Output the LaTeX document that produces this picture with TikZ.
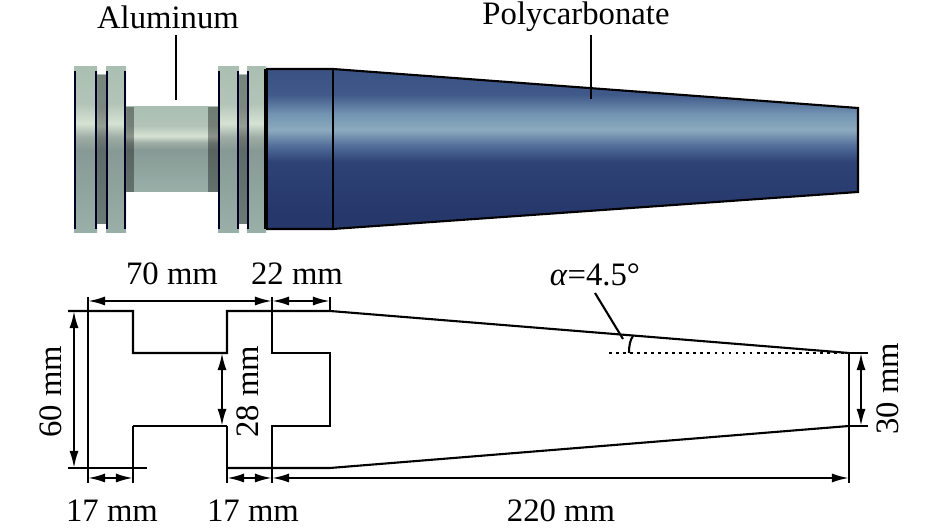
\documentclass[tikz,border=0pt]{standalone}
\usepackage{fontspec}
\setmainfont{Liberation Serif}
\usetikzlibrary{arrows.meta}
\pgfdeclareverticalshading{alushade}{100bp}{rgb(0bp)=(.29,.32,.40);rgb(3bp)=(.33,.37,.43);rgb(6bp)=(.62,.70,.68);
  rgb(25bp)=(.60,.69,.66);rgb(50bp)=(.53,.60,.58);rgb(54bp)=(.62,.68,.65);rgb(58bp)=(.84,.89,.83);rgb(64bp)=(.70,.77,.72);
  rgb(90bp)=(.62,.72,.66);rgb(96bp)=(.50,.57,.58);rgb(97bp)=(.29,.32,.40);rgb(100bp)=(.29,.32,.40)}
\pgfdeclareverticalshading{blueshade}{100bp}{rgb(0bp)=(.14,.16,.31);rgb(5bp)=(.15,.19,.36);rgb(30bp)=(.15,.22,.42);
  rgb(46bp)=(.18,.26,.46);rgb(51bp)=(.32,.43,.60);rgb(56bp)=(.55,.67,.75);rgb(61bp)=(.45,.58,.70);
  rgb(67bp)=(.25,.35,.54);rgb(78bp)=(.22,.31,.50);rgb(90bp)=(.24,.32,.51);rgb(100bp)=(.22,.28,.45)}
\begin{document}
\begin{tikzpicture}[x=0.01cm,y=-0.01cm,
    every node/.style={font=\fontsize{9.3}{11}\selectfont,inner sep=0pt},
    dimline/.style={line width=0.6pt,black},
    dimarrow/.style={line width=0.6pt,black,{Latex[length=1.7mm,width=.9mm]}-{Latex[length=1.7mm,width=.9mm]}},
    partedge/.style={line width=0.7pt,black!85!blue}]
    \useasboundingbox (0,0) rectangle (945,531);
    % aluminum end
    \foreach \xa/\xb in {97/106,239/247} {
      \shade[shading=alushade] (\xa,75) rectangle (\xb,224);
      \fill[black,opacity=.3] (\xa,75) rectangle (\xb,224);
    }
    \shade[shading=alushade] (126,107) rectangle (218,192);
    \fill[black,opacity=.35] (126,107) rectangle (134,192);
    \fill[black,opacity=.35] (208,107) rectangle (218,192);
    \foreach \xa/\xb in {74/97,106/126,218/239,247/266} {
      \shade[shading=alushade] (\xa,67) rectangle (\xb,233);
      \draw[partedge] (\xa+1,71) -- (\xa+1,229);
      \draw[partedge] (\xb-1,71) -- (\xb-1,229);
    }
    % polycarbonate cone
    \shade[shading=blueshade] (266,69) -- (333,69) -- (858,108) -- (858,192) -- (333,229) -- (266,229) -- cycle;
    \draw[line width=0.6pt,black] (266,69) -- (333,69) -- (858,108) -- (858,192) -- (333,229) -- (266,229);
    \draw[line width=1pt,black] (266,69) -- (266,229);
    \draw[line width=0.6pt,black] (333,69) -- (333,229);
    % leaders and top labels
    \node (alu) at (168,17) {Aluminum};
    \node (poly) at (576,17) {Polycarbonate};
    \coordinate (aluend) at (176,100);
    \coordinate (polyend) at (591,99);
    \coordinate (alustart) at (176,35);
    \coordinate (polystart) at (591,35);
    \draw[dimline] (alustart) -- (aluend);
    \draw[dimline] (polystart) -- (polyend);
    % section points
    \coordinate (a1) at (88,311);
    \coordinate (a2) at (133,311);
    \coordinate (a3) at (133,353);
    \coordinate (a4) at (227,353);
    \coordinate (a5) at (227,311);
    \coordinate (a6) at (330,311);
    \coordinate (a7) at (849,353);
    \coordinate (a8) at (849,426);
    \coordinate (a9) at (330,468);
    \coordinate (a10) at (227,468);
    \coordinate (b1) at (88,468);
    \coordinate (b2) at (133,426);
    \coordinate (b3) at (227,426);
    \coordinate (c1) at (272,353);
    \coordinate (c2) at (330,353);
    \coordinate (c3) at (330,426);
    \coordinate (c4) at (272,426);
    \coordinate (c5) at (272,311);
    \coordinate (d1) at (68,311);
    \coordinate (d2) at (68,468);
    \coordinate (d3) at (147,468);
    \coordinate (e1) at (88,297);
    \coordinate (e2) at (272,297);
    \coordinate (e3) at (330,297);
    \coordinate (f1) at (88,483);
    \coordinate (f2) at (133,483);
    \coordinate (f3) at (227,483);
    \coordinate (f4) at (272,483);
    \coordinate (f5) at (849,483);
    \coordinate (g1) at (868,353);
    \coordinate (g2) at (868,426);
    \draw[dimline] (d1) -- (a2) -- (a3) -- (a4) -- (a5) -- (a6) -- (a7);
    \draw[dimline] (b3) -- (f3);
    \draw[dimline] (b2) -- (f2);
    \draw[dimline] (b2) -- (b3);
    \draw[dimline] (d2) -- (d3);
    \draw[dimline] (a10) -- (a9) -- (a8);
    \draw[dimline] (e1) -- (f1);
    \draw[dimline] (e2) -- (c1) -- (c2) -- (c3) -- (c4) -- (f4);
    \draw[dimline] (e3) -- (a6);
    \draw[dimline] (a7) -- (f5);
    \draw[dimline] (a7) -- (g1);
    \draw[dimline] (a8) -- (g2);
    % dimension arrows
    \coordinate (h1) at (88,301);
    \coordinate (h2) at (272,301);
    \coordinate (h3) at (330,301);
    \coordinate (i1) at (88,478);
    \coordinate (i2) at (133,478);
    \coordinate (i3) at (227,478);
    \coordinate (i4) at (272,478);
    \coordinate (i5) at (849,478);
    \coordinate (j1) at (74,311);
    \coordinate (j2) at (74,468);
    \coordinate (k1) at (222,353);
    \coordinate (k2) at (222,426);
    \coordinate (l1) at (861,353);
    \coordinate (l2) at (861,426);
    \draw[dimarrow] (h1) -- (h2);
    \draw[dimarrow] (h2) -- (h3);
    \draw[dimarrow] (i1) -- (i2);
    \draw[dimarrow] (i3) -- (i4);
    \draw[dimarrow] (i4) -- (i5);
    \draw[dimarrow] (j1) -- (j2);
    \draw[dimarrow] (k1) -- (k2);
    \draw[dimarrow] (l1) -- (l2);
    % angle
    \coordinate (m1) at (609,353);
    \coordinate (m2) at (595,293);
    \coordinate (m3) at (623,339);
    \coordinate (m4) at (629,353);
    \coordinate (m5) at (633,336);
    \draw[line width=0.6pt,dash pattern=on .8pt off 1.2pt] (m1) -- (a7);
    \draw[dimline] (m2) -- (m3);
    \draw[dimline] (m4) .. controls (629,346) and (630,340) .. (m5);
    % labels
    \node (t70) at (172,274) {70 mm};
    \node (t22) at (297,274) {22 mm};
    \node (talpha) at (595,275) {\textit{α}=4.5°};
    \node (t17a) at (112,511) {17 mm};
    \node (t17b) at (253,511) {17 mm};
    \node (t220) at (561,511) {220 mm};
    \node[rotate=90] (t60) at (51,392) {60 mm};
    \node[rotate=90] (t28) at (248,392) {28 mm};
    \node[rotate=90] (t30) at (888,389) {30 mm};
\end{tikzpicture}
\end{document}
